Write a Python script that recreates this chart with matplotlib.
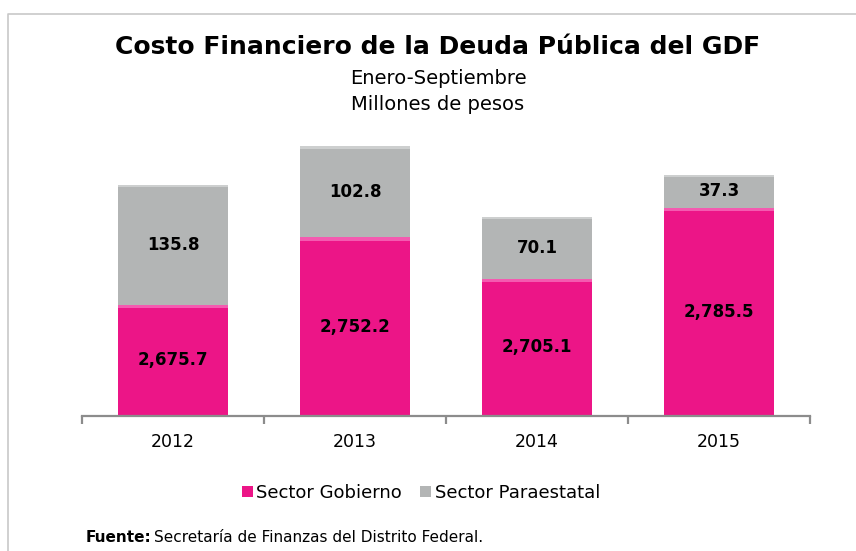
import matplotlib
matplotlib.use('Agg')
import matplotlib.pyplot as plt
from matplotlib.patches import Patch
from matplotlib.lines import Line2D
import numpy as np

years = ['2012', '2013', '2014', '2015']
gobierno = [2675.7, 2752.2, 2705.1, 2785.5]
paraestatal = [135.8, 102.8, 70.1, 37.3]

pink = '#EC1587'
gray = '#B3B5B5'

W, H = 856, 551
fig = plt.figure(figsize=(W / 100, H / 100), dpi=100)
plt.rcParams['font.family'] = ['DejaVu Sans']


def fx(px):
    return px / W


def fy(py):
    return 1 - py / H


# outer frame (only left and top visible)
fig.add_artist(Line2D([fx(8), fx(8), fx(W + 5)], [fy(H + 5), fy(14), fy(14)],
                      color='#C8C8C8', lw=1.2, transform=fig.transFigure))

ax = fig.add_axes([fx(82), fy(416), fx(810) - fx(82), fy(140) - fy(416)])
x = np.arange(len(years))
ymin = 2550
ax.bar(x, np.array(gobierno) - ymin, bottom=ymin, width=0.6, color=pink,
       edgecolor='none', zorder=2)
ax.bar(x, paraestatal, bottom=gobierno, width=0.6, color=gray,
       edgecolor='none', zorder=2)

# thin bevel highlight on top of each segment
for i in range(len(years)):
    ax.bar(x[i], 4, bottom=gobierno[i] - 4, width=0.6, color='#F45AB0',
           edgecolor='none', zorder=3)
    ax.bar(x[i], 3, bottom=gobierno[i] + paraestatal[i] - 3, width=0.6,
           color='#CDCFCF', edgecolor='none', zorder=3)

for i in range(len(years)):
    ax.text(x[i], (ymin + gobierno[i]) / 2, f'{gobierno[i]:,.1f}', ha='center',
            va='center', fontsize=12, fontweight='bold', color='black', zorder=4)
    ax.text(x[i], gobierno[i] + paraestatal[i] / 2, f'{paraestatal[i]:,.1f}',
            ha='center', va='center', fontsize=12, fontweight='bold',
            color='black', zorder=4)

ax.set_xlim(-0.5, len(years) - 0.5)
ax.set_ylim(ymin, 2862)
for s in ['left', 'right', 'top']:
    ax.spines[s].set_visible(False)
ax.spines['bottom'].set_color('#8C8C8C')
ax.spines['bottom'].set_linewidth(1.6)
ax.set_yticks([])
ax.set_xticks(x)
ax.set_xticklabels(years, fontsize=12.5)
ax.tick_params(axis='x', which='major', length=0, pad=12)
ax.set_xticks(np.arange(-0.5, len(years)), minor=True)
ax.tick_params(axis='x', which='minor', length=6, width=1.6, color='#8C8C8C')

fig.text(fx(438), fy(47), 'Costo Financiero de la Deuda Pública del GDF',
         ha='center', va='center', fontsize=18, fontweight='bold')
fig.text(fx(438), fy(78), 'Enero-Septiembre', ha='center', va='center', fontsize=14)
fig.text(fx(438), fy(104), 'Millones de pesos', ha='center', va='center', fontsize=14)

handles = [Patch(facecolor=pink, edgecolor='none'),
           Patch(facecolor=gray, edgecolor='none')]
fig.legend(handles, ['Sector Gobierno', 'Sector Paraestatal'], loc='center',
           bbox_to_anchor=(fx(421), fy(493)), ncol=2, frameon=False, fontsize=13,
           handlelength=0.6, handleheight=0.6, handletextpad=0.2, columnspacing=1.0)

t = fig.text(fx(86), fy(537), 'Fuente:', ha='left', va='center', fontsize=11,
             fontweight='bold')
fig.canvas.draw()
bb = t.get_window_extent()
fig.text(bb.x1 / W + 0.003, fy(537), 'Secretaría de Finanzas del Distrito Federal.',
         ha='left', va='center', fontsize=11)

fig.savefig('out.png', dpi=100)
